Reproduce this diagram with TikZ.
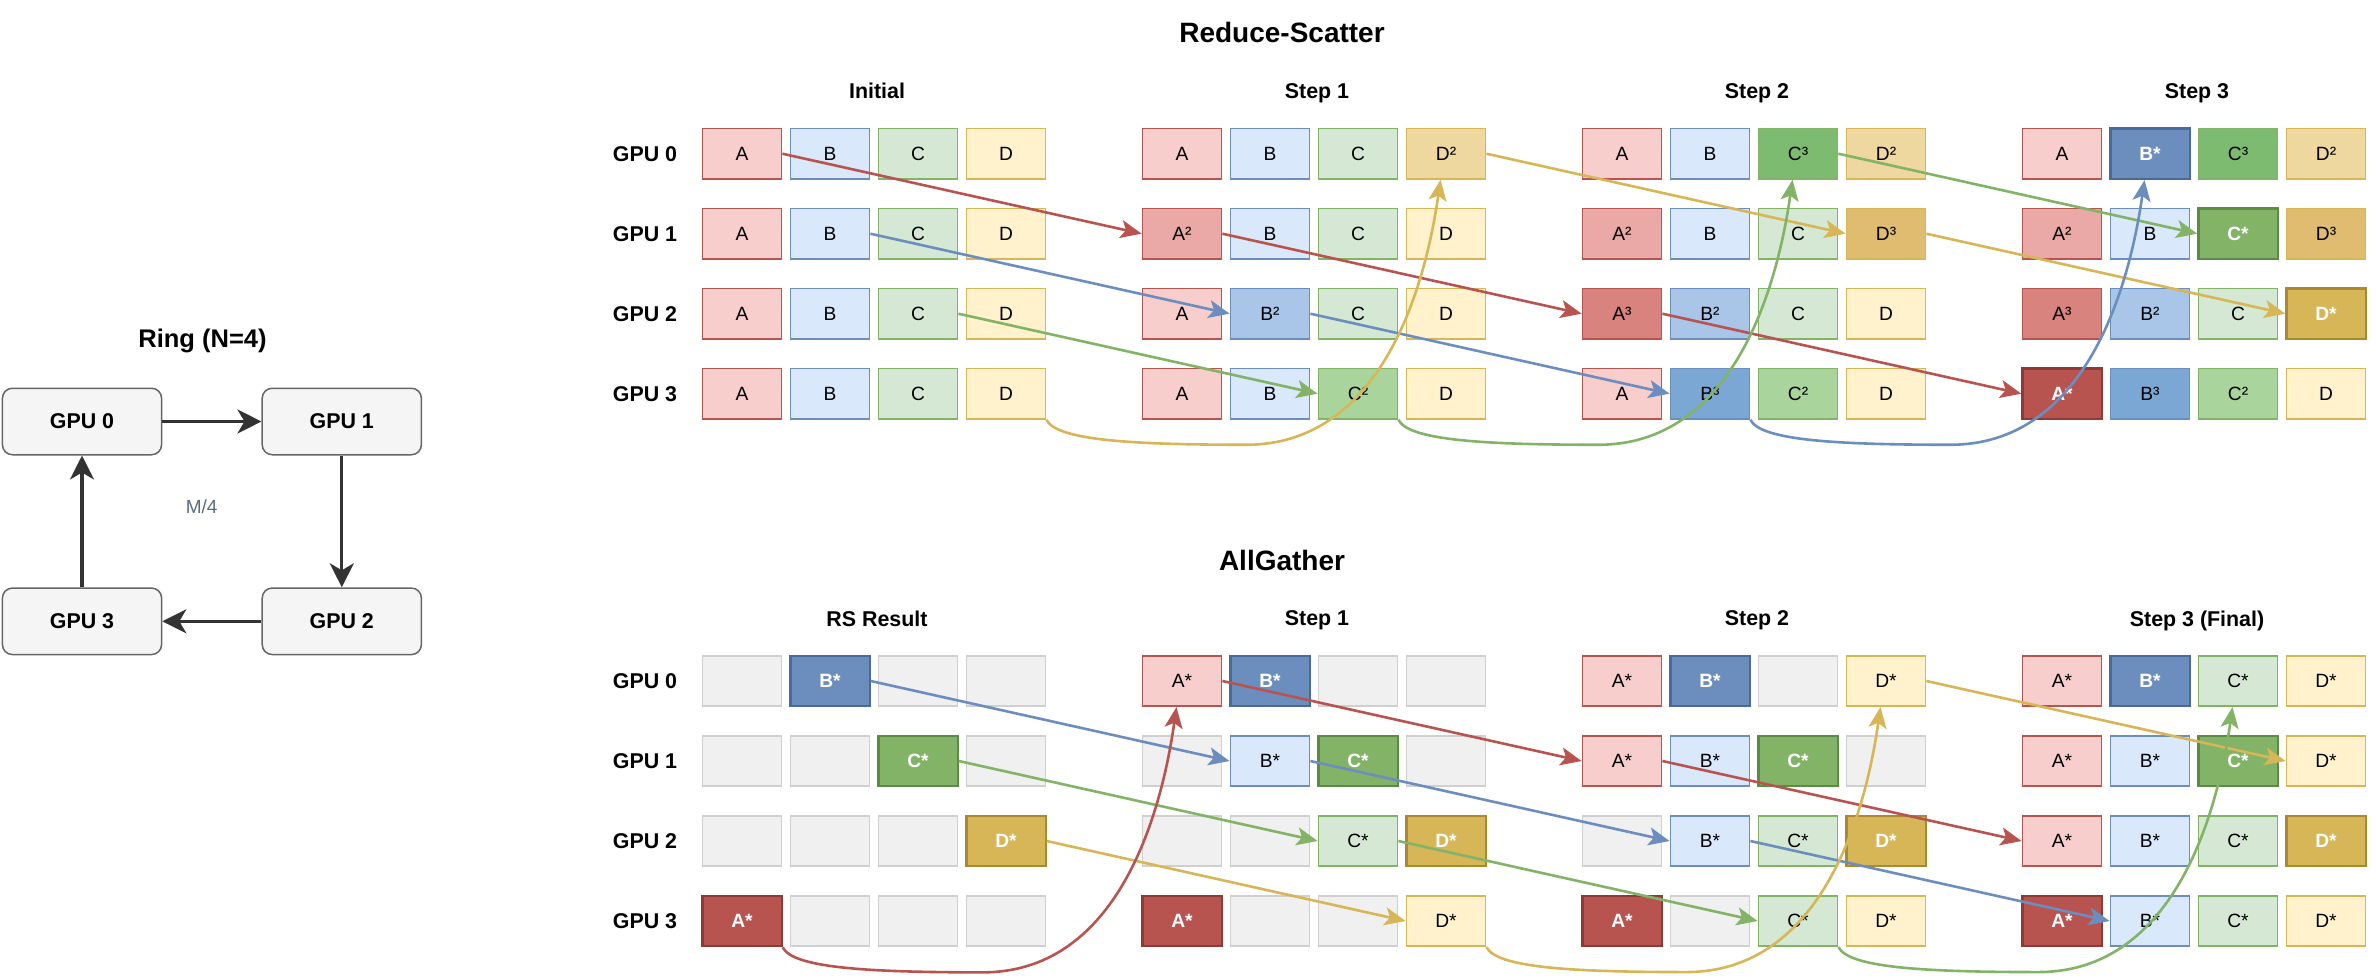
\documentclass[tikz,border=0pt]{standalone}
\usepackage{fontspec}
\setmainfont{Liberation Sans}
\usetikzlibrary{arrows.meta}

\definecolor{redfill}{HTML}{F8CECC}
\definecolor{redline}{HTML}{B85450}
\definecolor{redtwo}{HTML}{EAA9A6}
\definecolor{redthree}{HTML}{D9837F}
\definecolor{reddark}{HTML}{8E3B38}
\definecolor{bluefill}{HTML}{DAE8FC}
\definecolor{blueline}{HTML}{6C8EBF}
\definecolor{bluetwo}{HTML}{A9C5E8}
\definecolor{bluethree}{HTML}{7BA7D5}
\definecolor{bluedark}{HTML}{4B6A98}
\definecolor{greenfill}{HTML}{D5E8D4}
\definecolor{greenline}{HTML}{82B366}
\definecolor{greentwo}{HTML}{A9D59C}
\definecolor{greenthree}{HTML}{7DBB71}
\definecolor{greendark}{HTML}{5A8C45}
\definecolor{yellowfill}{HTML}{FFF2CC}
\definecolor{yellowline}{HTML}{D6B656}
\definecolor{yellowtwo}{HTML}{EFD7A0}
\definecolor{yellowthree}{HTML}{DFBC70}
\definecolor{yellowdark}{HTML}{A88A33}
\definecolor{emptyfill}{HTML}{F0F0F0}
\definecolor{emptyline}{HTML}{D0D0D0}
\definecolor{ringfill}{HTML}{F5F5F5}
\definecolor{ringline}{HTML}{666666}
\definecolor{ringarrow}{HTML}{333333}
\definecolor{notegray}{HTML}{5B6B7B}

\tikzset{
  cell/.style={draw, line width=0.8pt, minimum width=39.6pt, minimum height=25.25pt,
    inner sep=0pt, text depth=0pt, font=\fontsize{9.6}{11}\selectfont},
  total/.style={cell, line width=1.1pt, text=white, font=\fontsize{9.6}{11}\selectfont\bfseries},
  cA/.style={cell, fill=redfill, draw=redline, node contents={A}},
  cA2/.style={cell, fill=redtwo, draw=redline, node contents={A²}},
  cA3/.style={cell, fill=redthree, draw=redline, node contents={A³}},
  cAs/.style={total, fill=redline, draw=reddark, node contents={A*}},
  cAc/.style={cell, fill=redfill, draw=redline, node contents={A*}},
  cB/.style={cell, fill=bluefill, draw=blueline, node contents={B}},
  cB2/.style={cell, fill=bluetwo, draw=blueline, node contents={B²}},
  cB3/.style={cell, fill=bluethree, draw=blueline, node contents={B³}},
  cBs/.style={total, fill=blueline, draw=bluedark, node contents={B*}},
  cBc/.style={cell, fill=bluefill, draw=blueline, node contents={B*}},
  cC/.style={cell, fill=greenfill, draw=greenline, node contents={C}},
  cC2/.style={cell, fill=greentwo, draw=greenline, node contents={C²}},
  cC3/.style={cell, fill=greenthree, draw=greenline, node contents={C³}},
  cCs/.style={total, fill=greenline, draw=greendark, node contents={C*}},
  cCc/.style={cell, fill=greenfill, draw=greenline, node contents={C*}},
  cD/.style={cell, fill=yellowfill, draw=yellowline, node contents={D}},
  cD2/.style={cell, fill=yellowtwo, draw=yellowline, node contents={D²}},
  cD3/.style={cell, fill=yellowthree, draw=yellowline, node contents={D³}},
  cDs/.style={total, fill=yellowline, draw=yellowdark, node contents={D*}},
  cDc/.style={cell, fill=yellowfill, draw=yellowline, node contents={D*}},
  cE/.style={cell, fill=emptyfill, draw=emptyline, node contents={}},
  rowlabel/.style={font=\fontsize{10.7}{13}\selectfont\bfseries, text depth=0pt},
  phase/.style={font=\fontsize{14}{17}\selectfont\bfseries, text depth=0pt},
  flow/.style={line width=1.3pt, -{Stealth[length=10.5pt, width=9pt, inset=2.5pt]}},
  gpubox/.style={draw=ringline, fill=ringfill, line width=0.75pt, rounded corners=5pt,
    minimum width=79.6pt, minimum height=33.25pt, font=\fontsize{10.7}{13}\selectfont\bfseries},
  ringflow/.style={draw=ringarrow, line width=1.6pt, -{Stealth[length=12pt, width=12pt, inset=3.5pt]}},
}

\begin{document}
\begin{tikzpicture}[x=0.5pt, y=-0.5pt]
    \useasboundingbox (0,0) rectangle (2376,979);

    \node[font=\fontsize{12.75}{15}\selectfont\bfseries, text depth=0pt] (ringtitle) at (202.5, 338) {Ring (N=4)};
    \node[gpubox] (ring0) at (82, 421.5) {GPU 0};
    \node[gpubox] (ring1) at (341.8, 421.5) {GPU 1};
    \node[gpubox] (ring2) at (341.8, 621.3) {GPU 2};
    \node[gpubox] (ring3) at (82, 621.3) {GPU 3};
    \node[text=notegray, font=\fontsize{9.5}{11}\selectfont] (chunk) at (201.7, 506.7) {M/4};
    \draw[ringflow] (ring0) -- (ring1);
    \draw[ringflow] (ring1) -- (ring2);
    \draw[ringflow] (ring2) -- (ring3);
    \draw[ringflow] (ring3) -- (ring0);

    \node[phase] (rstitle) at (1282, 32.5) {Reduce-Scatter};
    \node[phase] (agtitle) at (1282, 560) {AllGather};

    \foreach \g/\t in {0/Initial, 1/Step 1, 2/Step 2, 3/Step 3} {
        \node[rowlabel] (rsstep\g) at (877+440*\g, 90.7) {\t};
    }
    \foreach \g/\t in {0/RS Result, 1/Step 1, 2/Step 2, 3/Step 3 (Final)} {
        \node[rowlabel] (agstep\g) at (877+440*\g, 618.3) {\t};
    }
    \foreach \r in {0,1,2,3} {
        \node[rowlabel] (rsgpu\r) at (645, 153.7+80*\r) {GPU \r};
        \node[rowlabel] (aggpu\r) at (645, 681+80*\r) {GPU \r};
    }

    \foreach \g/\cells in {
        0/{cA,cB,cC,cD, cA,cB,cC,cD, cA,cB,cC,cD, cA,cB,cC,cD},
        1/{cA,cB,cC,cD2, cA2,cB,cC,cD, cA,cB2,cC,cD, cA,cB,cC2,cD},
        2/{cA,cB,cC3,cD2, cA2,cB,cC,cD3, cA3,cB2,cC,cD, cA,cB3,cC2,cD},
        3/{cA,cBs,cC3,cD2, cA2,cB,cCs,cD3, cA3,cB2,cC,cDs, cAs,cB3,cC2,cD}} {
        \foreach \s [count=\i from 0] in \cells {
            \pgfmathtruncatemacro{\rw}{\i/4}
            \pgfmathtruncatemacro{\cl}{mod(\i,4)}
            \node (rs-\g-\rw-\cl) at (742+440*\g+88*\cl, 153.7+80*\rw) [\s];
        }
    }

    \foreach \g/\cells in {
        0/{cE,cBs,cE,cE, cE,cE,cCs,cE, cE,cE,cE,cDs, cAs,cE,cE,cE},
        1/{cAc,cBs,cE,cE, cE,cBc,cCs,cE, cE,cE,cCc,cDs, cAs,cE,cE,cDc},
        2/{cAc,cBs,cE,cDc, cAc,cBc,cCs,cE, cE,cBc,cCc,cDs, cAs,cE,cCc,cDc},
        3/{cAc,cBs,cCc,cDc, cAc,cBc,cCs,cDc, cAc,cBc,cCc,cDs, cAs,cBc,cCc,cDc}} {
        \foreach \s [count=\i from 0] in \cells {
            \pgfmathtruncatemacro{\rw}{\i/4}
            \pgfmathtruncatemacro{\cl}{mod(\i,4)}
            \node (ag-\g-\rw-\cl) at (742+440*\g+88*\cl, 681+80*\rw) [\s];
        }
    }

    \foreach \src/\dst/\clr in {
        rs-0-0-0/rs-1-1-0/redline, rs-0-1-1/rs-1-2-1/blueline, rs-0-2-2/rs-1-3-2/greenline,
        rs-1-1-0/rs-2-2-0/redline, rs-1-2-1/rs-2-3-1/blueline, rs-1-0-3/rs-2-1-3/yellowline,
        rs-2-2-0/rs-3-3-0/redline, rs-2-0-2/rs-3-1-2/greenline, rs-2-1-3/rs-3-2-3/yellowline,
        ag-0-0-1/ag-1-1-1/blueline, ag-0-1-2/ag-1-2-2/greenline, ag-0-2-3/ag-1-3-3/yellowline,
        ag-1-0-0/ag-2-1-0/redline, ag-1-1-1/ag-2-2-1/blueline, ag-1-2-2/ag-2-3-2/greenline,
        ag-2-0-3/ag-3-1-3/yellowline, ag-2-1-0/ag-3-2-0/redline, ag-2-2-1/ag-3-3-1/blueline} {
        \draw[flow, \clr] (\src.east) -- (\dst.west);
    }

    \foreach \src/\dst/\clr in {
        rs-0-3-3/rs-1-0-3/yellowline, rs-1-3-2/rs-2-0-2/greenline, rs-2-3-1/rs-3-0-1/blueline,
        ag-0-3-0/ag-1-0-0/redline, ag-1-3-3/ag-2-0-3/yellowline, ag-2-3-2/ag-3-0-2/greenline} {
        \draw[flow, \clr] (\src.south east) .. controls +(10,20) and +(-120,0) .. ++(200,25)
            .. controls +(130,0) and +(-17,119) .. ([xshift=-2.75pt]\dst.south);
    }

\end{tikzpicture}
\end{document}
